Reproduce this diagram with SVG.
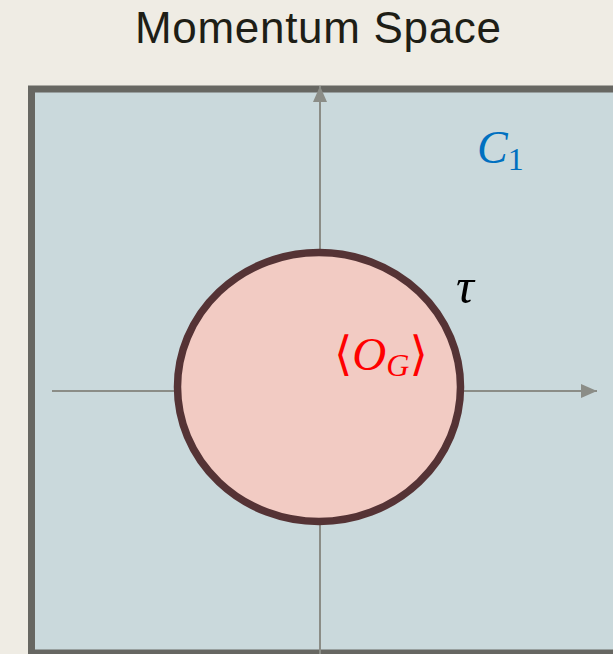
<svg xmlns="http://www.w3.org/2000/svg" width="613" height="654" viewBox="0 0 613 654">
<style>
.axis{stroke:#8b8d87;stroke-width:2;fill:none}
.math{font-family:"Liberation Serif","DejaVu Serif",serif;font-style:italic}
</style>
<defs>
<marker id="arr" viewBox="0 0 16 14" refX="16" refY="7" markerWidth="16" markerHeight="14" markerUnits="userSpaceOnUse" orient="auto">
<path d="M0,0 L16,7 L0,14 z" fill="#8b8d87"/>
</marker>
</defs>
<rect width="613" height="654" fill="#efece4"/>
<text x="318" y="43" font-family="'Liberation Sans',Arial,sans-serif" font-size="44" fill="#1e1e16" text-anchor="middle" textLength="366">Momentum Space</text>
<g id="panel">
<rect x="31.5" y="89" width="600" height="564" fill="#cad9dc" stroke="#676762" stroke-width="7"/>
</g>
<g id="connectors">
<line class="axis" x1="320" y1="654" x2="320" y2="86" marker-end="url(#arr)"/>
<line class="axis" x1="52" y1="391" x2="597" y2="391" marker-end="url(#arr)"/>
</g>
<g id="region">
<ellipse cx="321" cy="389" rx="141.5" ry="134.5" fill="#c9a3a8" opacity="0.6"/>
<ellipse cx="319" cy="387" rx="141.5" ry="134.5" fill="#f2cbc3" stroke="#553335" stroke-width="7.5"/>
</g>
<g id="labels">
<text class="math" x="477" y="163" font-size="46" fill="#0070c0">C<tspan font-style="normal" font-size="32" dy="7">1</tspan></text>
<text class="math" x="456" y="303" font-size="50" fill="#000">τ</text>
<text class="math" x="334" y="370" font-size="47" fill="#ff0000"><tspan font-style="normal">⟨</tspan>O<tspan font-size="32" dy="6">G</tspan><tspan font-style="normal" dy="-6">⟩</tspan></text>
</g>
</svg>
